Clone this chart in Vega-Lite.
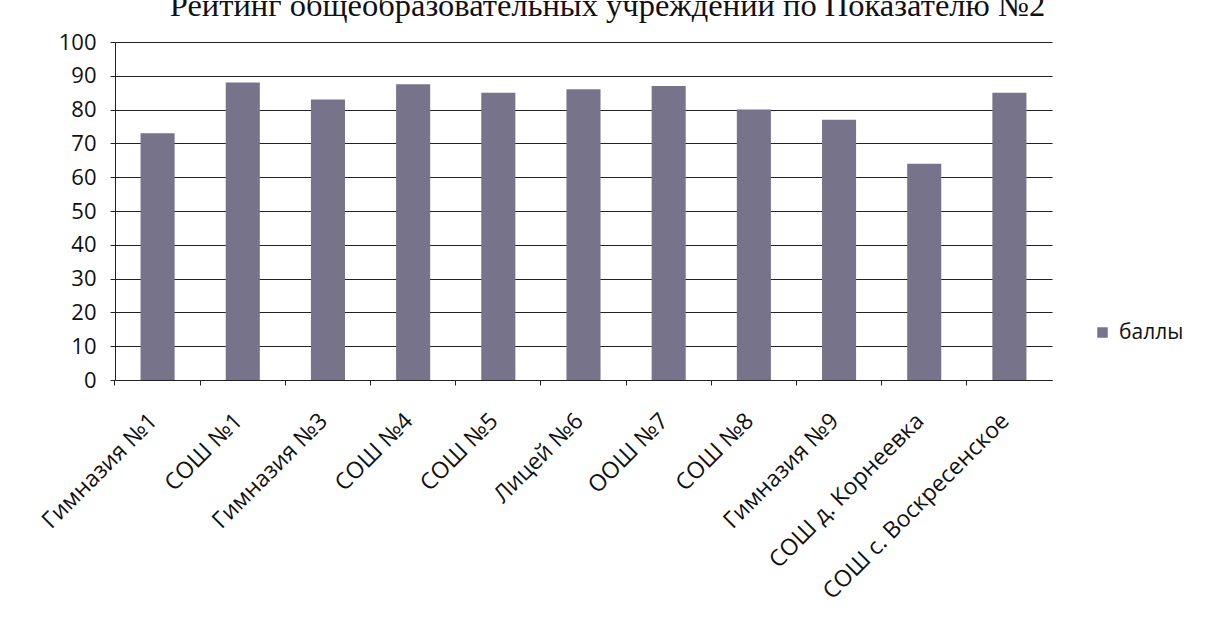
{
  "$schema": "https://vega.github.io/schema/vega-lite/v6.json",
  "width": 937,
  "height": 338,
  "autosize": "none",
  "padding": {"left": 115, "top": 42, "right": 158, "bottom": 254},
  "background": "white",
  "title": {
    "text": "Рейтинг общеобразовательных учреждений по Показателю №2",
    "font": "Liberation Serif",
    "fontSize": 32.5,
    "fontWeight": "normal",
    "color": "#111",
    "baseline": "alphabetic",
    "offset": 15,
    "dy": 32,
    "dx": 24,
    "anchor": "middle"
  },
  "data": {
    "values": [
      {"school": "Гимназия №1", "score": 73, "series": "баллы"},
      {"school": "СОШ №1", "score": 88, "series": "баллы"},
      {"school": "Гимназия №3", "score": 83, "series": "баллы"},
      {"school": "СОШ №4", "score": 87.5, "series": "баллы"},
      {"school": "СОШ №5", "score": 85, "series": "баллы"},
      {"school": "Лицей №6", "score": 86, "series": "баллы"},
      {"school": "ООШ №7", "score": 87, "series": "баллы"},
      {"school": "СОШ №8", "score": 80, "series": "баллы"},
      {"school": "Гимназия №9", "score": 77, "series": "баллы"},
      {"school": "СОШ д. Корнеевка", "score": 64, "series": "баллы"},
      {"school": "СОШ с. Воскресенское", "score": 85, "series": "баллы"}
    ]
  },
  "mark": {"type": "bar"},
  "encoding": {
    "x": {
      "field": "school",
      "type": "nominal",
      "sort": null,
      "scale": {"paddingInner": 0.6, "paddingOuter": 0.3},
      "axis": {
        "title": null,
        "labelAngle": -45,
        "labelAlign": "right",
        "labelBaseline": "middle",
        "labelFont": "Open Sans",
        "labelFontSize": 23,
        "labelColor": "#111",
        "labelPadding": 32,
        "labelLimit": 0,
        "bandPosition": -0.75,
        "labelOffset": -4,
        "domainColor": "#222",
        "tickColor": "#222",
        "tickSize": 5,
        "grid": false
      }
    },
    "y": {
      "field": "score",
      "type": "quantitative",
      "scale": {"domain": [0, 100], "nice": false},
      "axis": {
        "title": null,
        "values": [0, 10, 20, 30, 40, 50, 60, 70, 80, 90, 100],
        "labelFont": "Open Sans",
        "labelFontSize": 22,
        "labelColor": "#111",
        "labelPadding": 14,
        "tickSize": 5,
        "tickColor": "#222",
        "domainColor": "#222",
        "gridColor": "#222",
        "gridWidth": 1.2,
        "gridOpacity": 1
      }
    },
    "color": {
      "field": "series",
      "type": "nominal",
      "scale": {"range": ["#77738a"]},
      "legend": {
        "title": null,
        "orient": "none",
        "legendX": 977,
        "legendY": 280,
        "symbolType": "square",
        "symbolSize": 110,
        "symbolStrokeWidth": 0,
        "labelFont": "Open Sans",
        "labelFontSize": 21,
        "labelColor": "#111",
        "labelOffset": 6,
        "padding": 0
      }
    }
  },
  "config": {"view": {"stroke": null}}
}
